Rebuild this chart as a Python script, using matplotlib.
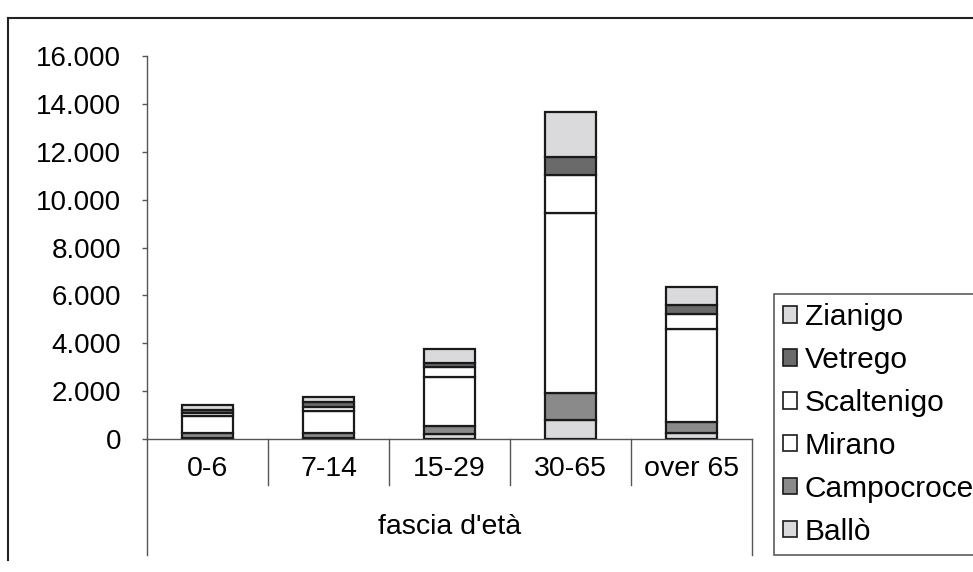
import numpy as np
import matplotlib.pyplot as plt
from matplotlib.lines import Line2D
from matplotlib.patches import Patch
import matplotlib.transforms as mtransforms
from matplotlib.ticker import FuncFormatter

plt.rcParams['font.family'] = ['Liberation Sans', 'DejaVu Sans']

# --- age bands and population per frazione ---
categories = ['0-6', '7-14', '15-29', '30-65', 'over 65']
ballo = [60, 60, 200, 790, 250]
campocroce = [180, 190, 330, 1150, 460]
mirano = [700, 940, 2040, 7490, 3880]
scaltenigo = [140, 165, 420, 1580, 650]
vetrego = [150, 180, 180, 760, 375]
zianigo = [195, 210, 600, 1870, 730]

series = [
    ('Ballò', ballo, '#dadadd'),
    ('Campocroce', campocroce, '#8a8a8a'),
    ('Mirano', mirano, '#ffffff'),
    ('Scaltenigo', scaltenigo, '#ffffff'),
    ('Vetrego', vetrego, '#6a6a6a'),
    ('Zianigo', zianigo, '#dadadd'),
]

W, H = 973, 572
fig = plt.figure(figsize=(W / 100, H / 100), dpi=100)

# plot area in pixels
x0, x1, y_top, y_base = 147, 752, 56, 439
ax = fig.add_axes([x0 / W, (H - y_base) / H, (x1 - x0) / W, (y_base - y_top) / H])

x = np.arange(len(categories))
bottom = np.zeros(len(categories))
handles = []
for name, vals, col in series:
    ax.bar(x, vals, 0.42, bottom=bottom, color=col, edgecolor='#1a1a1a', linewidth=1.6, zorder=3)
    bottom += np.array(vals)
    handles.append(Patch(facecolor=col, edgecolor='#1a1a1a', linewidth=1.2, label=name))

ax.set_xlim(-0.5, len(categories) - 0.5)
ax.set_ylim(0, 16000)
ax.set_yticks(np.arange(0, 16001, 2000))
ax.yaxis.set_major_formatter(FuncFormatter(lambda v, p: f'{int(v):,}'.replace(',', '.')))
ax.tick_params(axis='y', direction='out', length=3.6, width=1, color='#555555', labelsize=20, pad=15)

ax.set_xticks(x)
ax.set_xticklabels(categories)
ax.tick_params(axis='x', length=0, labelsize=20.5, pad=12)
ax.set_xlabel("fascia d'età", fontsize=20.5, labelpad=23)

for s in ['top', 'right']:
    ax.spines[s].set_visible(False)
ax.spines['left'].set_color('#555555')
ax.spines['bottom'].set_color('#555555')
ax.spines['left'].set_linewidth(1)
ax.spines['bottom'].set_linewidth(1)

# category separators below the axis
trans = mtransforms.blended_transform_factory(ax.transData, ax.transAxes)
inner = -(485 - y_base) / (y_base - y_top)
outer = -(555 - y_base) / (y_base - y_top)
for i in range(len(categories) + 1):
    xs = i - 0.5
    ylow = outer if i in (0, len(categories)) else inner
    ax.add_line(Line2D([xs, xs], [0, ylow], transform=trans, color='#555555',
                       linewidth=1, clip_on=False))

# legend, top entry first
leg = fig.legend(handles[::-1], [h.get_label() for h in handles[::-1]],
                 loc='upper left', bbox_to_anchor=(774 / W, 1 - 294 / H),
                 frameon=True, fancybox=False, fontsize=21.5, handlelength=0.48,
                 handleheight=0.48, handletextpad=0.25, labelspacing=0.5,
                 borderpad=0.3, borderaxespad=0)
leg.get_frame().set_edgecolor('#333333')
leg.get_frame().set_linewidth(1.2)

# outer chart border
fig.add_artist(Line2D([8 / W, 1], [1 - 18 / H, 1 - 18 / H], transform=fig.transFigure,
                      color='#222222', linewidth=1.5))
fig.add_artist(Line2D([8 / W, 8 / W], [1 - 18 / H, 1 - 560 / H], transform=fig.transFigure,
                      color='#222222', linewidth=1.5))

fig.savefig('out.png', dpi=100)
